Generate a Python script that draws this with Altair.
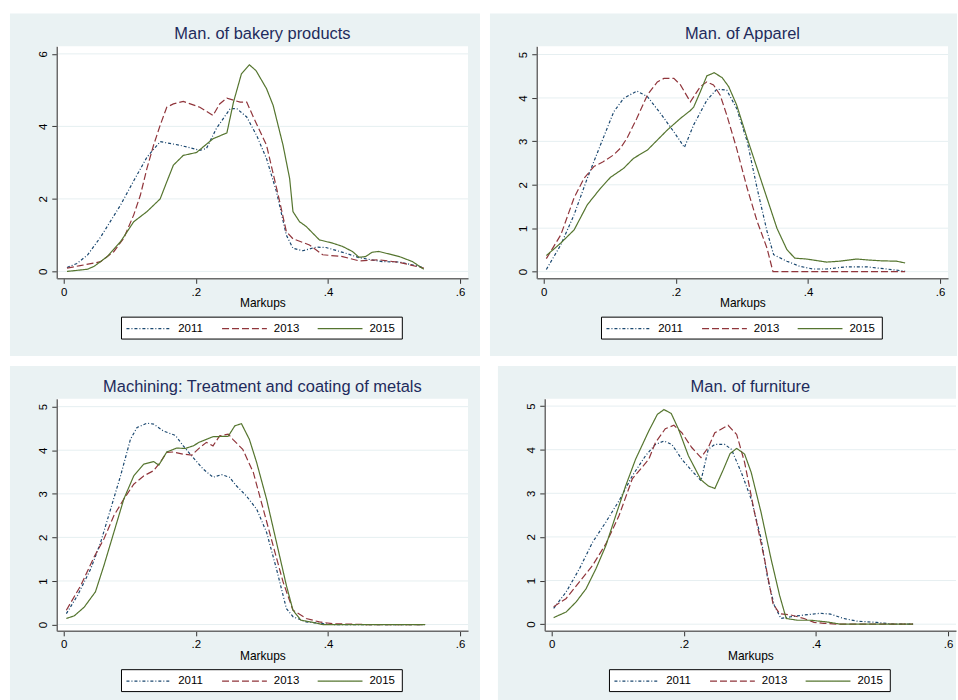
import altair as alt
import pandas as pd

# ---------------- style constants ----------------
BG = "#EAF2F3"
GRID = "#E6EFF1"
TITLE_C = "#1E2B5C"
FONT = "Liberation Sans"
YEARS = ["2011", "2013", "2015"]
COLORS = ["#1a476f", "#90353b", "#55752f"]
DASHES = [[3, 2, 1, 2], [7, 3], [1, 0]]
W, H = 413, 233

TITLES = [
    "Man. of bakery products",
    "Man. of Apparel",
    "Machining: Treatment and coating of metals",
    "Man. of furniture",
]
X_TICKS = [0, 0.2, 0.4, 0.6]
X_DOMAIN = [-0.0105, 0.612]
Y_TICKS = [[0, 2, 4, 6], [0, 1, 2, 3, 4, 5], [0, 1, 2, 3, 4, 5], [0, 1, 2, 3, 4, 5]]
Y_DOMAINS = [[-0.19, 6.21], [-0.154, 5.19], [-0.144, 5.18], [-0.153, 5.167]]

# ---------------- data ----------------
# Man. of bakery products
BAK_2011_X = [0.005, 0.02, 0.036, 0.056, 0.086, 0.106, 0.126, 0.146, 0.176, 0.206, 0.216, 0.231, 0.252, 0.262,
              0.277, 0.292, 0.307, 0.322, 0.337, 0.347, 0.362, 0.382, 0.397, 0.427, 0.447, 0.482, 0.508, 0.545]
BAK_2011_Y = [0.11, 0.22, 0.45, 0.95, 1.83, 2.5, 3.15, 3.58, 3.48, 3.34, 3.39, 3.94, 4.49, 4.49,
              4.26, 3.75, 3.11, 2.2, 1.0, 0.64, 0.57, 0.67, 0.66, 0.5, 0.38, 0.27, 0.26, 0.11]
BAK_2013_X = [0.005, 0.025, 0.046, 0.056, 0.076, 0.091, 0.106, 0.116, 0.126, 0.136, 0.146, 0.156, 0.166, 0.181,
              0.206, 0.226, 0.236, 0.247, 0.267, 0.277, 0.287, 0.307, 0.327, 0.337, 0.347, 0.372, 0.392, 0.422,
              0.447, 0.477, 0.508, 0.545]
BAK_2013_Y = [0.09, 0.16, 0.23, 0.27, 0.55, 0.92, 1.56, 2.1, 2.84, 3.48, 4.03, 4.53, 4.62, 4.69,
              4.53, 4.3, 4.62, 4.78, 4.67, 4.67, 4.26, 3.48, 1.92, 1.1, 0.9, 0.73, 0.46, 0.41,
              0.29, 0.32, 0.25, 0.09]
BAK_2015_X = [0.005, 0.036, 0.046, 0.066, 0.086, 0.106, 0.126, 0.146, 0.156, 0.166, 0.181, 0.201, 0.226, 0.247,
              0.257, 0.269, 0.281, 0.291, 0.307, 0.317, 0.332, 0.342, 0.347, 0.357, 0.367, 0.387, 0.407, 0.422,
              0.437, 0.447, 0.457, 0.467, 0.477, 0.508, 0.528, 0.545]
BAK_2015_Y = [0.0, 0.06, 0.14, 0.41, 0.82, 1.37, 1.65, 2.0, 2.47, 2.93, 3.2, 3.28, 3.66, 3.82,
              4.67, 5.45, 5.7, 5.54, 5.04, 4.58, 3.48, 2.56, 1.65, 1.37, 1.24, 0.87, 0.78, 0.69,
              0.55, 0.39, 0.41, 0.53, 0.55, 0.41, 0.27, 0.06]

# Man. of Apparel
APP_2011_X = [0.004, 0.026, 0.046, 0.066, 0.086, 0.106, 0.121, 0.141, 0.157, 0.177, 0.197, 0.213, 0.227, 0.247,
              0.262, 0.277, 0.292, 0.308, 0.323, 0.338, 0.348, 0.368, 0.388, 0.408, 0.428, 0.458, 0.489, 0.519, 0.547]
APP_2011_Y = [0.05, 0.62, 1.31, 2.15, 2.92, 3.68, 3.99, 4.16, 4.03, 3.64, 3.22, 2.86, 3.38, 3.95,
              4.2, 4.18, 3.76, 3.0, 1.92, 0.93, 0.39, 0.24, 0.12, 0.06, 0.06, 0.11, 0.11, 0.06, 0.01]
APP_2013_X = [0.004, 0.026, 0.046, 0.061, 0.076, 0.09, 0.106, 0.116, 0.126, 0.141, 0.157, 0.172, 0.182, 0.197,
              0.207, 0.222, 0.237, 0.247, 0.257, 0.267, 0.277, 0.292, 0.308, 0.323, 0.338, 0.347, 0.547]
APP_2013_Y = [0.3, 0.85, 1.7, 2.15, 2.42, 2.53, 2.69, 2.84, 3.07, 3.53, 4.07, 4.37, 4.45, 4.45,
              4.3, 3.91, 4.26, 4.37, 4.3, 4.07, 3.61, 2.84, 1.92, 1.16, 0.54, 0.0, 0.0]
APP_2015_X = [0.004, 0.026, 0.046, 0.066, 0.086, 0.101, 0.121, 0.136, 0.157, 0.172, 0.187, 0.207, 0.222, 0.227,
              0.237, 0.247, 0.258, 0.27, 0.28, 0.292, 0.308, 0.323, 0.338, 0.353, 0.368, 0.38, 0.398, 0.428,
              0.448, 0.474, 0.489, 0.509, 0.534, 0.547]
APP_2015_Y = [0.37, 0.66, 0.96, 1.54, 1.92, 2.17, 2.38, 2.61, 2.8, 3.03, 3.26, 3.53, 3.71, 3.79,
              4.14, 4.51, 4.58, 4.47, 4.26, 3.84, 3.07, 2.38, 1.69, 1.0, 0.51, 0.31, 0.29, 0.22,
              0.24, 0.29, 0.27, 0.25, 0.24, 0.2]

# Machining: Treatment and coating of metals
MAC_2011_X = [0.004, 0.021, 0.041, 0.056, 0.071, 0.086, 0.101, 0.111, 0.126, 0.136, 0.151, 0.169, 0.181, 0.196,
              0.211, 0.226, 0.239, 0.251, 0.261, 0.276, 0.292, 0.307, 0.322, 0.337, 0.347, 0.367, 0.387, 0.407, 0.547]
MAC_2011_Y = [0.25, 0.67, 1.28, 1.89, 2.65, 3.41, 4.25, 4.52, 4.62, 4.6, 4.44, 4.34, 4.1, 3.83,
              3.57, 3.38, 3.44, 3.38, 3.19, 2.96, 2.65, 2.12, 1.28, 0.37, 0.18, 0.06, 0.03, 0.0, 0.0]
MAC_2013_X = [0.004, 0.026, 0.046, 0.061, 0.076, 0.091, 0.106, 0.121, 0.136, 0.146, 0.156, 0.166, 0.181, 0.194,
              0.206, 0.216, 0.226, 0.236, 0.249, 0.256, 0.271, 0.287, 0.302, 0.317, 0.332, 0.347, 0.367, 0.387,
              0.407, 0.457, 0.547]
MAC_2013_Y = [0.33, 0.9, 1.55, 1.97, 2.5, 2.88, 3.22, 3.41, 3.53, 3.72, 3.95, 3.96, 3.91, 3.89,
              4.06, 4.18, 4.1, 4.33, 4.37, 4.25, 4.02, 3.49, 2.65, 1.81, 0.98, 0.33, 0.14, 0.06,
              0.02, 0.0, 0.0]
MAC_2015_X = [0.004, 0.016, 0.031, 0.048, 0.061, 0.076, 0.091, 0.106, 0.121, 0.136, 0.144, 0.156, 0.171, 0.184,
              0.196, 0.206, 0.226, 0.249, 0.259, 0.269, 0.281, 0.292, 0.307, 0.322, 0.337, 0.347, 0.359, 0.377,
              0.392, 0.547]
MAC_2015_Y = [0.14, 0.2, 0.4, 0.75, 1.36, 2.12, 2.88, 3.41, 3.68, 3.74, 3.66, 3.96, 4.05, 4.04,
              4.1, 4.19, 4.31, 4.32, 4.56, 4.61, 4.25, 3.72, 2.88, 1.89, 0.9, 0.33, 0.1, 0.05,
              0.0, 0.0]

# Man. of furniture
FUR_2011_X = [0.003, 0.022, 0.042, 0.062, 0.082, 0.102, 0.122, 0.142, 0.157, 0.17, 0.182, 0.197, 0.212, 0.226,
              0.237, 0.247, 0.262, 0.272, 0.287, 0.302, 0.317, 0.327, 0.337, 0.347, 0.362, 0.382, 0.407, 0.422,
              0.442, 0.462, 0.492, 0.517, 0.547]
FUR_2011_Y = [0.36, 0.74, 1.27, 1.88, 2.34, 2.83, 3.4, 3.86, 4.12, 4.2, 4.12, 3.78, 3.52, 3.29,
              4.01, 4.12, 4.12, 4.01, 3.48, 2.87, 1.96, 1.04, 0.43, 0.13, 0.17, 0.21, 0.25, 0.23,
              0.13, 0.07, 0.04, 0.0, 0.0]
FUR_2013_X = [0.003, 0.022, 0.042, 0.062, 0.082, 0.102, 0.122, 0.147, 0.157, 0.172, 0.185, 0.197, 0.212, 0.226,
              0.237, 0.247, 0.267, 0.28, 0.292, 0.307, 0.322, 0.335, 0.345, 0.362, 0.382, 0.397, 0.412, 0.432, 0.547]
FUR_2013_Y = [0.4, 0.59, 0.97, 1.35, 1.84, 2.49, 3.33, 3.78, 4.16, 4.48, 4.56, 4.39, 4.05, 3.82,
              4.05, 4.39, 4.56, 4.35, 3.71, 2.56, 1.5, 0.47, 0.24, 0.21, 0.13, 0.04, 0.02, 0.0, 0.0]
FUR_2015_X = [0.003, 0.022, 0.037, 0.052, 0.067, 0.082, 0.097, 0.112, 0.127, 0.147, 0.16, 0.17, 0.181, 0.192,
              0.207, 0.226, 0.237, 0.247, 0.26, 0.27, 0.28, 0.292, 0.302, 0.317, 0.332, 0.345, 0.355, 0.372,
              0.392, 0.417, 0.437, 0.547]
FUR_2015_Y = [0.15, 0.28, 0.51, 0.81, 1.27, 1.8, 2.49, 3.17, 3.78, 4.43, 4.81, 4.92, 4.83, 4.47,
              3.86, 3.31, 3.17, 3.11, 3.55, 3.91, 4.03, 3.9, 3.48, 2.56, 1.5, 0.66, 0.13, 0.09,
              0.09, 0.05, 0.0, 0.0]

PANELS = [
    [(BAK_2011_X, BAK_2011_Y), (BAK_2013_X, BAK_2013_Y), (BAK_2015_X, BAK_2015_Y)],
    [(APP_2011_X, APP_2011_Y), (APP_2013_X, APP_2013_Y), (APP_2015_X, APP_2015_Y)],
    [(MAC_2011_X, MAC_2011_Y), (MAC_2013_X, MAC_2013_Y), (MAC_2015_X, MAC_2015_Y)],
    [(FUR_2011_X, FUR_2011_Y), (FUR_2013_X, FUR_2013_Y), (FUR_2015_X, FUR_2015_Y)],
]

# ---------------- layout constants (pixels relative to each plot area) ----------------
EXTENTS = [(12, 78), (9, 78), (12, 71), (0, 71)]   # panel background: right, bottom
LEG_BOX = (65, 272, 347, 294)                        # legend frame x1, y1, x2, y2
LEG_SYM_X = [70, 166, 262]                           # legend key start
LEG_SYM_LEN = 45
LEG_TXT_GAP = 7
LEG_Y = 283.5

ONE = pd.DataFrame({"k": [0]})
COLOR_SCALE = alt.Scale(domain=YEARS, range=COLORS)
DASH_SCALE = alt.Scale(domain=YEARS, range=DASHES)


def legend_layers():
    box = alt.Chart(ONE).mark_rect(fill="#FFFFFF", stroke="#000000", strokeWidth=1).encode(
        x=alt.value(LEG_BOX[0]), x2=alt.value(LEG_BOX[2]),
        y=alt.value(LEG_BOX[1]), y2=alt.value(LEG_BOX[3]))
    layers = [box]
    for year, sx in zip(YEARS, LEG_SYM_X):
        yd = pd.DataFrame({"year": [year]})
        key = alt.Chart(yd).mark_rule(strokeWidth=1.2).encode(
            x=alt.value(sx), x2=alt.value(sx + LEG_SYM_LEN), y=alt.value(LEG_Y),
            color=alt.Color("year:N", scale=COLOR_SCALE, legend=None),
            strokeDash=alt.StrokeDash("year:N", scale=DASH_SCALE, legend=None))
        lab = alt.Chart(yd).mark_text(font=FONT, fontSize=11.5, color="#000000", align="left",
                                      baseline="middle").encode(
            x=alt.value(sx + LEG_SYM_LEN + LEG_TXT_GAP), y=alt.value(LEG_Y), text="year:N")
        layers += [key, lab]
    return layers


def panel(i):
    rows = []
    for year, (xs, ys) in zip(YEARS, PANELS[i]):
        for a, b in zip(xs, ys):
            rows.append({"year": year, "x": a, "y": b})
    df = pd.DataFrame(rows)
    xscale = alt.Scale(domain=X_DOMAIN, nice=False, zero=False)
    yscale = alt.Scale(domain=Y_DOMAINS[i], nice=False, zero=False)
    yaxis = alt.Axis(values=Y_TICKS[i], title=None, grid=False, labelAngle=270, zindex=1,
                     labelAlign="center", labelBaseline="bottom", format="d")
    xaxis = alt.Axis(values=X_TICKS, title="Markups", grid=False, zindex=1,
                     labelExpr="datum.value == 0 ? '0' : substring(format(datum.value, '.1f'), 1)")
    right_ext, bottom_ext = EXTENTS[i]

    bg = alt.Chart(ONE).mark_rect(color=BG).encode(
        x=alt.value(-47), x2=alt.value(W + right_ext), y=alt.value(-33), y2=alt.value(H + bottom_ext))
    white = alt.Chart(ONE).mark_rect(color="#FFFFFF").encode(
        x=alt.value(0), x2=alt.value(W), y=alt.value(0), y2=alt.value(H))
    grid = alt.Chart(pd.DataFrame({"t": Y_TICKS[i]})).mark_rule(color=GRID, strokeWidth=1).encode(
        y=alt.Y("t:Q", scale=yscale, axis=yaxis), x=alt.value(0), x2=alt.value(W))
    lines = alt.Chart(df).mark_line(strokeWidth=1.2).encode(
        x=alt.X("x:Q", scale=xscale, axis=xaxis),
        y=alt.Y("y:Q", scale=yscale, axis=yaxis),
        color=alt.Color("year:N", scale=COLOR_SCALE, legend=None),
        strokeDash=alt.StrokeDash("year:N", scale=DASH_SCALE, legend=None),
    )
    title = alt.Chart(ONE).mark_text(
        font=FONT, fontSize=16.5, color=TITLE_C, align="center", baseline="alphabetic"
    ).encode(x=alt.value(W / 2), y=alt.value(-7), text=alt.value(TITLES[i]))
    return alt.layer(bg, white, grid, lines, title, *legend_layers()).properties(width=W, height=H)


row1 = alt.hconcat(panel(0), panel(1), spacing=8).resolve_scale(x="independent", y="independent")
row2 = alt.hconcat(panel(2), panel(3), spacing=16).resolve_scale(x="independent", y="independent")

chart = alt.vconcat(row1, row2, spacing=8).properties(
    background="#FFFFFF",
    padding={"left": 9, "top": 11, "right": 0, "bottom": 0},
).configure_view(
    stroke="transparent"
).configure_axis(
    domainColor="#6b6b6b", domainWidth=1.5, tickColor="#333333", tickWidth=1,
    tickSize=5, labelFont=FONT, labelFontSize=11.5, labelColor="#000000", labelPadding=3,
    titleFont=FONT, titleFontSize=12, titleFontWeight="normal", titleColor="#000000", titlePadding=0,
)

chart.save("out.html", embed_options={"renderer": "svg", "actions": False})
